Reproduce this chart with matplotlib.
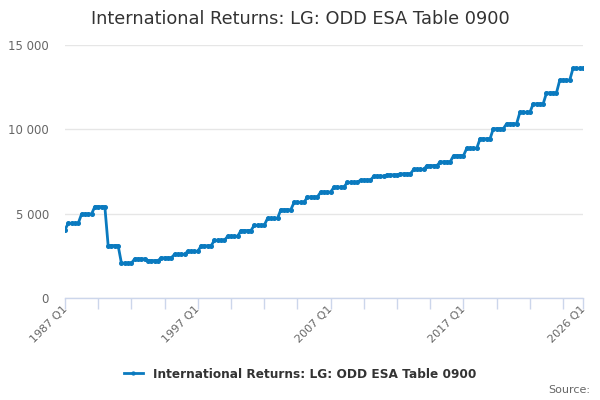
import matplotlib.pyplot as plt
from matplotlib.transforms import ScaledTranslation

# 1987 Q1 on its own, then one row per financial year (Q2 .. Q1 of next year)
values = [
    4050,
    4430, 4430, 4430, 4430,
    4980, 4980, 4980, 4980,
    5420, 5420, 5420, 5420,
    3110, 3110, 3110, 3110,
    2065, 2065, 2065, 2065,
    2320, 2320, 2320, 2320,
    2220, 2220, 2220, 2220,
    2380, 2380, 2380, 2380,
    2590, 2590, 2590, 2590,
    2770, 2770, 2770, 2770,
    3095, 3095, 3095, 3095,
    3420, 3420, 3420, 3420,
    3660, 3660, 3660, 3660,
    4000, 4000, 4000, 4000,
    4310, 4310, 4310, 4310,
    4720, 4720, 4720, 4720,
    5236, 5236, 5236, 5236,
    5670, 5670, 5670, 5670,
    5990, 5990, 5990, 5990,
    6280, 6280, 6280, 6280,
    6575, 6575, 6575, 6575,
    6850, 6850, 6850, 6850,
    6990, 6990, 6990, 6990,
    7220, 7220, 7220, 7220,
    7300, 7300, 7300, 7300,
    7360, 7360, 7360, 7360,
    7620, 7620, 7620, 7620,
    7850, 7850, 7850, 7850,
    8070, 8070, 8070, 8070,
    8440, 8440, 8440, 8440,
    8880, 8880, 8880, 8880,
    9440, 9440, 9440, 9440,
    10040, 10040, 10040, 10040,
    10330, 10330, 10330, 10330,
    11010, 11010, 11010, 11010,
    11510, 11510, 11510, 11510,
    12160, 12160, 12160, 12160,
    12920, 12920, 12920, 12920,
    13620, 13620, 13620, 13620,
]
quarters = [f'{1987 + i // 4} Q{i % 4 + 1}' for i in range(len(values))]
label_quarters = ['1987 Q1', '1997 Q1', '2007 Q1', '2017 Q1', '2026 Q1']
y_ticks = [0, 5000, 10000, 15000]
series_name = 'International Returns: LG: ODD ESA Table 0900'

blue = '#0a7abf'
grey = '#666666'
axis_col = '#ccd6eb'

fig = plt.figure(figsize=(6, 4), dpi=100)
ax = fig.add_axes([0.1083, 0.255, 0.8634, 0.6325])

x = list(range(len(values)))
ax.plot(x, values, color=blue, lw=2, marker='o', ms=2.6, label=series_name, zorder=3)

ax.set_xlim(0, len(values) - 1)
ax.set_ylim(0, 15000)

# gridlines / spines
ax.set_yticks(y_ticks)
ax.set_yticklabels([f'{v:,}'.replace(',', ' ') for v in y_ticks], color=grey, fontsize=8.5)
ax.yaxis.grid(True, color='#e6e6e6', lw=1)
ax.set_axisbelow(True)
ax.tick_params(axis='y', length=0, pad=11.5)
for s in ['top', 'right', 'left']:
    ax.spines[s].set_visible(False)
ax.spines['bottom'].set_color(axis_col)
ax.spines['bottom'].set_linewidth(1)

tick_pos = list(range(0, len(values), 10)) + [len(values) - 1]
ax.set_xticks(tick_pos)
ax.set_xticklabels([quarters[p] if quarters[p] in label_quarters else '' for p in tick_pos],
                   rotation=45, ha='right', rotation_mode='anchor', color=grey, fontsize=8)
ax.tick_params(axis='x', length=8, color=axis_col, width=1, pad=-4)
shift = ScaledTranslation(-3 / 100, 0, fig.dpi_scale_trans)
for lab in ax.get_xticklabels():
    lab.set_transform(lab.get_transform() + shift)

fig.suptitle(series_name, x=0.5, y=0.975, fontsize=12.8, color='#333333')

leg = fig.legend(loc='center', bbox_to_anchor=(0.5, 0.065), frameon=False,
                 prop={'weight': 'bold', 'size': 8.7}, handlelength=1.6, markerscale=0.8)
for t in leg.get_texts():
    t.set_color('#333333')

fig.text(0.983, 0.025, 'Source:', ha='right', va='center', color=grey, fontsize=8)

plt.savefig('out.png', dpi=100)
